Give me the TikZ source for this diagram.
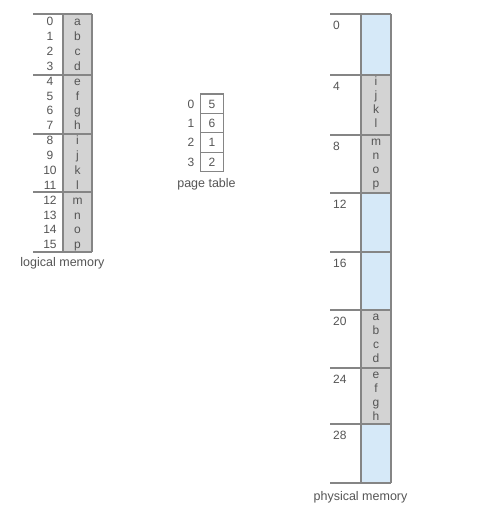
\documentclass[tikz,border=0pt]{standalone}
\usepackage{fontspec}
\setmainfont{Liberation Sans}
\definecolor{pgray}{HTML}{D3D3D3}
\definecolor{pblue}{HTML}{D6E9F8}
\definecolor{lgray}{HTML}{858585}
\definecolor{tgray}{HTML}{555555}
\tikzset{
  memline/.style={draw=lgray, line width=1.1pt},
  txt/.style={inner sep=0pt, text=tgray, font=\fontsize{12}{14}\selectfont, anchor=base},
  lbl/.style={inner sep=0pt, text=tgray, font=\fontsize{12.5}{14}\selectfont}
}
\begin{document}
\begin{tikzpicture}[x=1pt,y=-1pt]
\useasboundingbox[fill=white] (0,0) rectangle (502,514);
% ---------- logical memory ----------
\fill[pgray] (63,14) rectangle (92,252);
\draw[memline] (63,14) -- (63,252);
\draw[memline] (92,14) -- (92,252);
\foreach \y in {14,75,134,192,252} \draw[memline] (33,\y) -- (92,\y);
\foreach \i/\c in {0/a,1/b,2/c,3/d,4/e,5/f,6/g,7/h,8/i,9/j,10/k,11/l,12/m,13/n,14/o,15/p}{
  \node[txt] (ln\i) at (50,{14+14.875*(\i+0.5)+4.3}) {\i};
  \node[txt] (lc\i) at (77.5,{14+14.875*(\i+0.5)+4.3}) {\c};
}
\node[lbl] (loglbl) at (62.5,263) {logical memory};
% ---------- page table ----------
\draw[memline] (200.7,94) rectangle (223.3,171.7);
\foreach \k in {1,2,3} \draw[memline] (200.7,{94+19.425*\k}) -- (223.3,{94+19.425*\k});
\foreach \i/\f in {0/5,1/6,2/1,3/2}{
  \node[txt] (pi\i) at (191,{94+19.425*(\i+0.5)+4.3}) {\i};
  \node[txt] (pf\i) at (212,{94+19.425*(\i+0.5)+4.3}) {\f};
}
\node[lbl] (ptlbl) at (206.5,184) {page table};
% ---------- physical memory ----------
\foreach \t/\b/\col/\n in {14/75/pblue/0,75/135/pgray/4,135/193/pgray/8,193/252/pblue/12,252/310/pblue/16,310/368/pgray/20,368/424/pgray/24,424/483/pblue/28}{
  \fill[\col] (361,\t) rectangle (391,\b);
  \node[txt, anchor=base west] (fn\n) at (333,\t+15) {\n};
}
\draw[memline] (361,14) -- (361,483);
\draw[memline] (391,14) -- (391,483);
\foreach \y in {14,75,135,193,252,310,368,424,483} \draw[memline] (330,\y) -- (391,\y);
\foreach \t/\a/\b/\c/\d in {75/i/j/k/l,135/m/n/o/p,310/a/b/c/d,368/e/f/g/h}{
  \node[txt] (pa\t) at (376,\t+10.5) {\a};
  \node[txt] (pb\t) at (376,\t+24.5) {\b};
  \node[txt] (pc\t) at (376,\t+38.5) {\c};
  \node[txt] (pd\t) at (376,\t+52.5) {\d};
}
\node[lbl] (phlbl) at (360.5,497.5) {physical memory};
\end{tikzpicture}
\end{document}
